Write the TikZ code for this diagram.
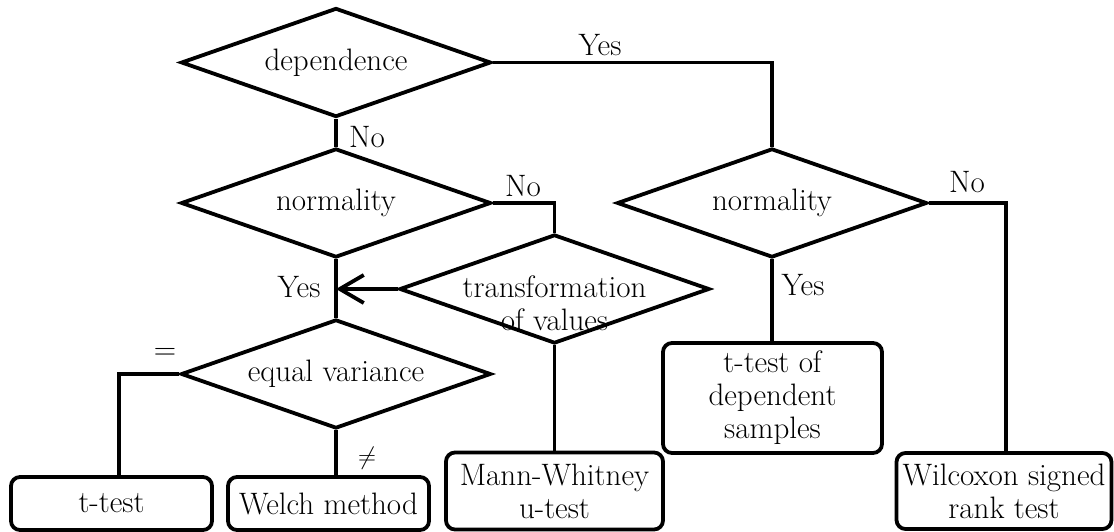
\documentclass[tikz,border=0pt]{standalone}
\usepackage{fontspec}
\usetikzlibrary{shapes.geometric,arrows.meta}

\tikzset{
  x=1pt, y=-1pt,
  base/.style={font=\fontsize{31pt}{33pt}\selectfont},
  decision/.style={diamond, draw, line width=3.8pt, minimum width=310pt,
    minimum height=109pt, inner sep=0pt},
  outcome/.style={rectangle, draw, line width=3.8pt, rounded corners=9pt,
    inner sep=0pt, base, align=center},
  words/.style={base, inner sep=0pt, align=center},
  tag/.style={base, inner sep=0pt},
  wire/.style={line width=3.8pt},
}

\begin{document}
\begin{tikzpicture}
\useasboundingbox (0,0) rectangle (1114,532);

% decisions
\node[decision] (dep) at (336,62.5) {};
\node[words] at (dep) {dependence};
\node[decision] (nl) at (336,203) {};
\node[words] at (nl) {normality};
\node[decision] (nr) at (772,203) {};
\node[words] at (nr) {normality};
\node[decision] (tr) at (554.5,289) {};
\node[words] at (554.5,303) {transformation\\of values};
\node[decision] (ev) at (336,374) {};
\node[words] at (ev) {equal variance};

% outcomes
\node[outcome, minimum width=201pt, minimum height=53pt] (tt) at (111.5,503.5) {t-test};
\node[outcome, minimum width=201pt, minimum height=53pt] (wm) at (328.5,503.5) {Welch method};
\node[outcome, minimum width=217pt, minimum height=77pt] (mw) at (554.5,491) {Mann-Whitney\\u-test};
\node[outcome, minimum width=219pt, minimum height=110pt] (td) at (772.5,398) {t-test of\\dependent\\samples};
\node[outcome, minimum width=215pt, minimum height=76pt] (wx) at (1004,491) {Wilcoxon signed\\rank test};

% connectors
\coordinate (yesdrop) at (772,62.5);
\draw[wire] (dep.east) -- (yesdrop) -- (nr.north);
\draw[wire] (dep.south) -- (nl.north);
\coordinate (nodrop) at (554.5,203);
\draw[wire] (nl.east) -- (nodrop) -- (tr.north);
\draw[wire] (nl.south) -- (ev.north);
\coordinate (merge) at (336,289);
\draw[wire, -{Straight Barb[length=24pt,width=28pt,line width=3.8pt]}] (tr.west) -- (merge);
\coordinate (eqdrop) at (119,374);
\draw[wire] (ev.west) -- (eqdrop) -- (eqdrop |- tt.north);
\draw[wire] (ev.south) -- (ev.south |- wm.north);
\draw[wire] (tr.south) -- (tr.south |- mw.north);
\draw[wire] (nr.south) -- (nr.south |- td.north);
\coordinate (wxdrop) at (1006,203);
\draw[wire] (nr.east) -- (wxdrop) -- (wxdrop |- wx.north);

% branch labels
\node[tag] (l1) at (600,45) {Yes};
\node[tag] (l2) at (367,137) {No};
\node[tag] (l3) at (523,186) {No};
\node[tag] (l4) at (299,287) {Yes};
\node[tag] (l5) at (165,354) {=};
\node[tag] (l6) at (367,458) {$\neq$};
\node[tag] (l7) at (803,285) {Yes};
\node[tag] (l8) at (967,182) {No};
\end{tikzpicture}
\end{document}
